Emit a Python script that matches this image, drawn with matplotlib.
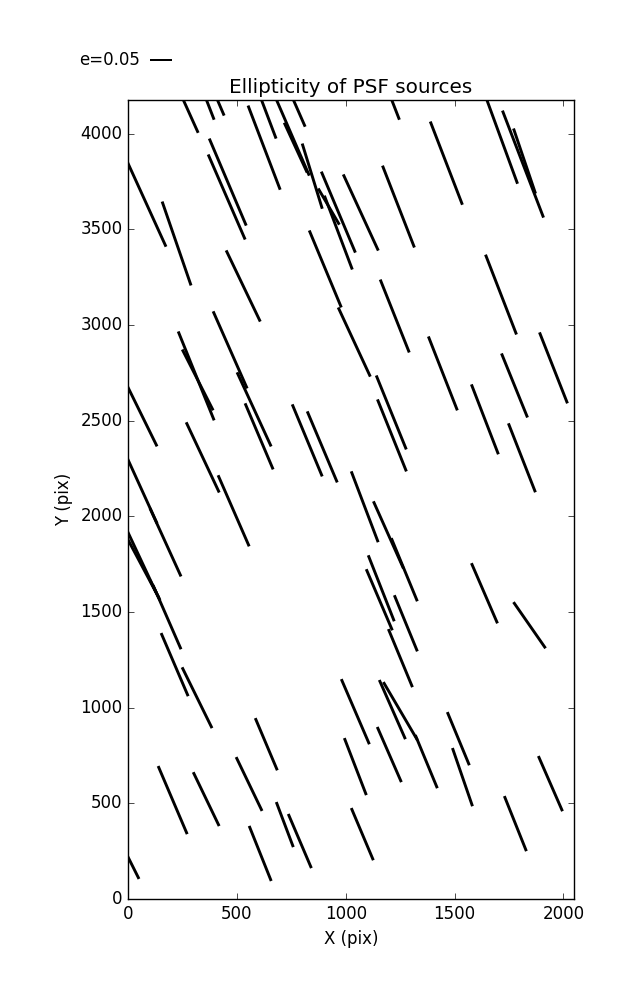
import matplotlib
matplotlib.use('Agg')
import matplotlib.pyplot as plt
import numpy as np

# source positions on the chip (pix)
x_pos = [264, 365, 416, 621, 743, 770, 767, 1216, 1708,
         625, 846, 966, 922, 966, 1069, 1242, 1462, 1814, 1821, 458, 453, 78, 223, 529, 906, 1039, 1225, 1713,
         469, 579, 313, 320, 60, 343, 602, 823, 892, 1209, 1212, 1446, 1639, 1775, 1954, 1809,
         62, 172, 60, 67, 179, 124, 214, 317, 485, 1087, 1196, 1269, 1163, 1154, 1276, 1251, 1637, 1844,
         1044, 1214, 1251, 1370, 1044, 1200, 1517, 1536, 1940, 1779, 1076, 635, 205, 359, 556, 720, 789, 607, 16]
y_pos = [4151, 4162, 4162, 4152, 4016, 3927, 4157, 4162, 3990,
         3927, 3778, 3590, 3619, 3483, 3588, 3619, 3846, 3841, 3857, 3747, 3669, 3650, 3426, 3204, 3293, 2911, 3047, 3159,
         2870, 2559, 2734, 2713, 2535, 2308, 2418, 2397, 2363, 2543, 2423, 2747, 2507, 2684, 2776, 2306,
         2141, 1864, 1770, 1734, 1473, 1614, 1225, 1052, 2029, 2050, 1903, 1721, 1624, 1564, 1441, 1259, 1598, 1431,
         979, 990, 982, 718, 692, 755, 838, 637, 603, 394, 339, 809, 517, 522, 601, 389, 303, 238, 183]

# ellipticity and orientation (deg) of each PSF source
ellip = [0.138, 0.082, 0.063, 0.163, 0.220, 0.123, 0.113, 0.082, 0.230,
         0.202, 0.153, 0.197, 0.094, 0.177, 0.188, 0.197, 0.200, 0.257, 0.154, 0.212, 0.208, 0.227, 0.199, 0.177, 0.187, 0.171, 0.176, 0.192,
         0.189, 0.183, 0.215, 0.153, 0.162, 0.174, 0.161, 0.175, 0.173, 0.179, 0.174, 0.178, 0.168, 0.155, 0.171, 0.166,
         0.168, 0.168, 0.159, 0.157, 0.157, 0.050, 0.154, 0.152, 0.174, 0.170, 0.165, 0.153, 0.159, 0.149, 0.136, 0.141, 0.147, 0.126,
         0.159, 0.145, 0.151, 0.129, 0.137, 0.135, 0.129, 0.138, 0.135, 0.133, 0.127, 0.127, 0.166, 0.134, 0.134, 0.108, 0.132, 0.133, 0.075]
theta = [-65.7, -68.8, -66.8, -69.3, -66.6, -65.3, -66.3, -68.8, -69.9,
         -69.1, -72.9, -67.2, -59.7, -69.3, -65.3, -68.7, -68.9, -69.0, -71.3, -67.0, -66.5, -65.5, -71.0, -64.4, -67.4, -65.1, -68.3, -68.8,
         -66.2, -65.3, -68.0, -63.1, -63.8, -64.8, -67.0, -67.4, -67.1, -67.9, -68.1, -68.6, -68.9, -67.9, -68.5, -68.6,
         -65.5, -65.5, -64.9, -62.0, -66.4, -63.4, -66.8, -63.8, -66.4, -69.2, -65.9, -67.6, -68.5, -66.9, -67.7, -67.5, -66.6, -55.2,
         -66.7, -66.2, -59.6, -67.5, -68.9, -66.4, -67.5, -71.0, -66.4, -68.2, -67.1, -67.1, -66.9, -64.3, -64.3, -69.3, -66.9, -68.2, -63.4]

key_e = 0.05

plt.style.use('classic')

fig = plt.figure(figsize=(6.37, 10.0), dpi=100, facecolor='white')
ax = fig.add_axes([0.201, 0.101, 0.7, 0.799])

# whiskers: headless arrows centred on each source
ang = np.radians(theta)
e = np.array(ellip)
u = e * np.cos(ang)
v = e * np.sin(ang)
q = ax.quiver(x_pos, y_pos, u, v, pivot='middle', headwidth=0, headlength=0,
              headaxislength=0, scale=1.0, scale_units='width', width=0.0065,
              color='black')
# key: tail of the stick sits at X when the label is on the left
ax.quiverkey(q, 0.2355, 0.94, key_e, 'e=%.2f' % key_e, coordinates='figure',
             labelpos='W', angle=0)

ax.set_xlim(0, 2048)
ax.set_ylim(0, 4176)
ax.set_xticks([0, 500, 1000, 1500, 2000])
ax.set_yticks(np.arange(0, 4001, 500))
ax.set_xlabel('X (pix)')
ax.set_ylabel('Y (pix)')
ax.set_title('Ellipticity of PSF sources')

fig.savefig('out.png', dpi=100, facecolor='white')
